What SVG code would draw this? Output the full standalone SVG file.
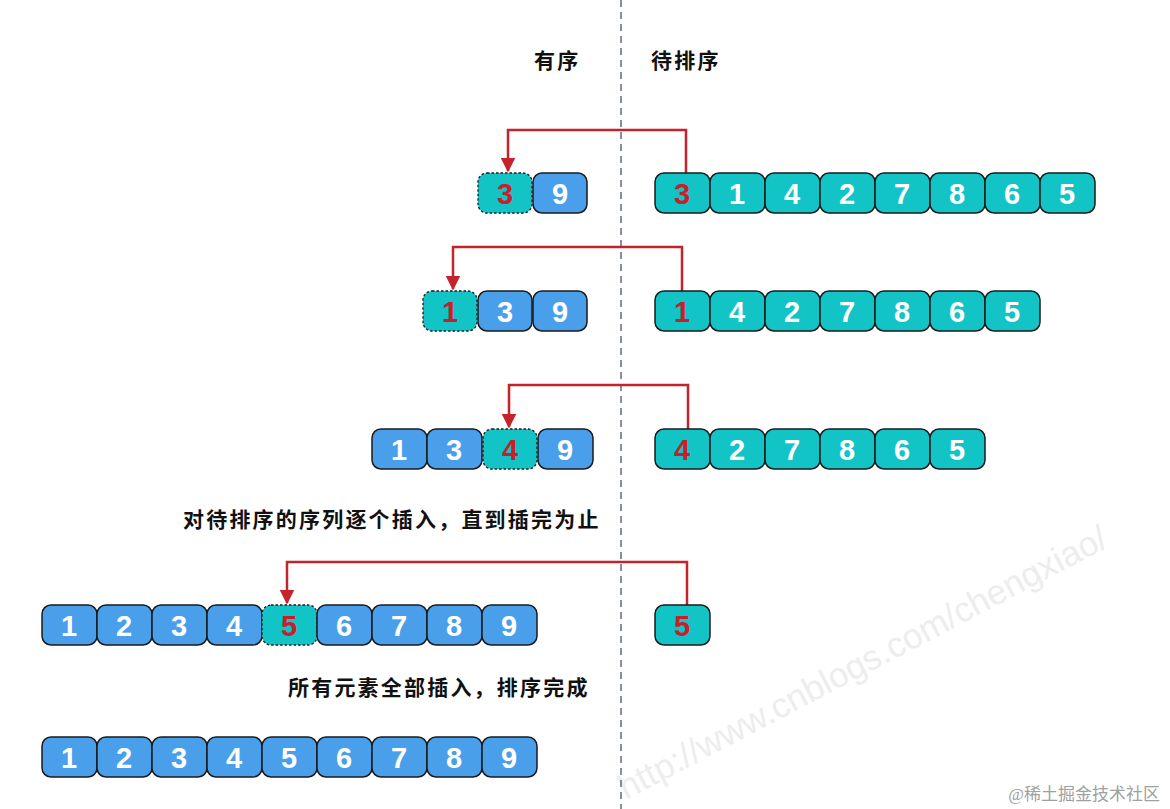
<svg xmlns="http://www.w3.org/2000/svg" width="1170" height="809" viewBox="0 0 1170 809">
<defs>
<style>
.c{fill:#13c4c6;stroke:#1a1a1a;stroke-width:1.5}
.b{fill:#4a9fea;stroke:#1a1a1a;stroke-width:1.5}
.d{fill:#13c4c6;stroke:#1a1a1a;stroke-width:1.3;stroke-dasharray:2.5 2}
.n{font-family:"Liberation Sans",Arial,sans-serif;font-weight:bold;font-size:29px;text-anchor:middle;fill:#ffffff}
.r{fill:#c8202a}
.lbl{font-family:"Liberation Sans","Noto Sans CJK SC",sans-serif;font-weight:bold;font-size:21px;letter-spacing:2.2px;fill:#111}
.arr{fill:none;stroke:#c4232b;stroke-width:2.5}
</style>
<marker id="ah" viewBox="0 0 10 10" refX="9" refY="5" markerWidth="6" markerHeight="6" markerUnits="strokeWidth" orient="auto">
<path d="M0,0 L10,5 L0,10 z" fill="#c4232b"/>
</marker>
</defs>
<rect width="1170" height="809" fill="#ffffff"/>
<text transform="translate(626,800) rotate(-27.7)" font-family="Liberation Sans,Arial,sans-serif" font-size="35" fill="#ededed">http://www.cnblogs.com/chengxiao/</text>
<line x1="621" y1="0" x2="621" y2="809" stroke="#5d6b80" stroke-width="1.5" stroke-dasharray="7 5"/>
<text class="lbl" x="534" y="68">有序</text>
<text class="lbl" x="651" y="68">待排序</text>
<text class="lbl" x="183" y="527">对待排序的序列逐个插入，直到插完为止</text>
<text class="lbl" x="288" y="695">所有元素全部插入，排序完成</text>
<text x="1160" y="800" text-anchor="end" font-family="Liberation Serif,'Noto Sans CJK SC',serif" font-size="17" fill="#a0a0a0">@稀土掘金技术社区</text>
<g id="connectors">
<path class="arr" d="M686,173 V130 H508 V171" marker-end="url(#ah)"/>
<path class="arr" d="M682,291 V247 H453 V289" marker-end="url(#ah)"/>
<path class="arr" d="M688,429 V385 H509 V427" marker-end="url(#ah)"/>
<path class="arr" d="M687,605 V562 H287 V603" marker-end="url(#ah)"/>
</g>
<g id="row1-sorted">
<rect class="d" x="478" y="173" width="54" height="40" rx="9"/><text class="n r" x="505" y="204">3</text>
<rect class="b" x="533" y="173" width="54" height="40" rx="9"/><text class="n" x="560" y="204">9</text>
</g>
<g id="row1-unsorted">
<rect class="c" x="655" y="173" width="55" height="40" rx="9"/><text class="n r" x="682" y="204">3</text>
<rect class="c" x="710" y="173" width="55" height="40" rx="9"/><text class="n" x="737" y="204">1</text>
<rect class="c" x="765" y="173" width="55" height="40" rx="9"/><text class="n" x="792" y="204">4</text>
<rect class="c" x="820" y="173" width="55" height="40" rx="9"/><text class="n" x="847" y="204">2</text>
<rect class="c" x="875" y="173" width="55" height="40" rx="9"/><text class="n" x="902" y="204">7</text>
<rect class="c" x="930" y="173" width="55" height="40" rx="9"/><text class="n" x="957" y="204">8</text>
<rect class="c" x="985" y="173" width="55" height="40" rx="9"/><text class="n" x="1012" y="204">6</text>
<rect class="c" x="1040" y="173" width="55" height="40" rx="9"/><text class="n" x="1067" y="204">5</text>
</g>
<g id="row2-sorted">
<rect class="d" x="423" y="291" width="54" height="40" rx="9"/><text class="n r" x="450" y="322">1</text>
<rect class="b" x="478" y="291" width="54" height="40" rx="9"/><text class="n" x="505" y="322">3</text>
<rect class="b" x="533" y="291" width="54" height="40" rx="9"/><text class="n" x="560" y="322">9</text>
</g>
<g id="row2-unsorted">
<rect class="c" x="655" y="291" width="55" height="40" rx="9"/><text class="n r" x="682" y="322">1</text>
<rect class="c" x="710" y="291" width="55" height="40" rx="9"/><text class="n" x="737" y="322">4</text>
<rect class="c" x="765" y="291" width="55" height="40" rx="9"/><text class="n" x="792" y="322">2</text>
<rect class="c" x="820" y="291" width="55" height="40" rx="9"/><text class="n" x="847" y="322">7</text>
<rect class="c" x="875" y="291" width="55" height="40" rx="9"/><text class="n" x="902" y="322">8</text>
<rect class="c" x="930" y="291" width="55" height="40" rx="9"/><text class="n" x="957" y="322">6</text>
<rect class="c" x="985" y="291" width="55" height="40" rx="9"/><text class="n" x="1012" y="322">5</text>
</g>
<g id="row3-sorted">
<rect class="b" x="372" y="429" width="55" height="40" rx="9"/><text class="n" x="399" y="460">1</text>
<rect class="b" x="427" y="429" width="55" height="40" rx="9"/><text class="n" x="454" y="460">3</text>
<rect class="d" x="483" y="429" width="54" height="40" rx="9"/><text class="n r" x="510" y="460">4</text>
<rect class="b" x="538" y="429" width="55" height="40" rx="9"/><text class="n" x="565" y="460">9</text>
</g>
<g id="row3-unsorted">
<rect class="c" x="655" y="429" width="55" height="40" rx="9"/><text class="n r" x="682" y="460">4</text>
<rect class="c" x="710" y="429" width="55" height="40" rx="9"/><text class="n" x="737" y="460">2</text>
<rect class="c" x="765" y="429" width="55" height="40" rx="9"/><text class="n" x="792" y="460">7</text>
<rect class="c" x="820" y="429" width="55" height="40" rx="9"/><text class="n" x="847" y="460">8</text>
<rect class="c" x="875" y="429" width="55" height="40" rx="9"/><text class="n" x="902" y="460">6</text>
<rect class="c" x="930" y="429" width="55" height="40" rx="9"/><text class="n" x="957" y="460">5</text>
</g>
<g id="row4-sorted">
<rect class="b" x="42" y="605" width="55" height="40" rx="9"/><text class="n" x="69" y="636">1</text>
<rect class="b" x="97" y="605" width="55" height="40" rx="9"/><text class="n" x="124" y="636">2</text>
<rect class="b" x="152" y="605" width="55" height="40" rx="9"/><text class="n" x="179" y="636">3</text>
<rect class="b" x="207" y="605" width="55" height="40" rx="9"/><text class="n" x="234" y="636">4</text>
<rect class="d" x="262" y="605" width="55" height="40" rx="9"/><text class="n r" x="289" y="636">5</text>
<rect class="b" x="317" y="605" width="55" height="40" rx="9"/><text class="n" x="344" y="636">6</text>
<rect class="b" x="372" y="605" width="55" height="40" rx="9"/><text class="n" x="399" y="636">7</text>
<rect class="b" x="427" y="605" width="55" height="40" rx="9"/><text class="n" x="454" y="636">8</text>
<rect class="b" x="482" y="605" width="55" height="40" rx="9"/><text class="n" x="509" y="636">9</text>
</g>
<g id="row4-unsorted">
<rect class="c" x="655" y="605" width="55" height="40" rx="9"/><text class="n r" x="682" y="636">5</text>
</g>
<g id="row5-sorted">
<rect class="b" x="42" y="737" width="55" height="40" rx="9"/><text class="n" x="69" y="768">1</text>
<rect class="b" x="97" y="737" width="55" height="40" rx="9"/><text class="n" x="124" y="768">2</text>
<rect class="b" x="152" y="737" width="55" height="40" rx="9"/><text class="n" x="179" y="768">3</text>
<rect class="b" x="207" y="737" width="55" height="40" rx="9"/><text class="n" x="234" y="768">4</text>
<rect class="b" x="262" y="737" width="55" height="40" rx="9"/><text class="n" x="289" y="768">5</text>
<rect class="b" x="317" y="737" width="55" height="40" rx="9"/><text class="n" x="344" y="768">6</text>
<rect class="b" x="372" y="737" width="55" height="40" rx="9"/><text class="n" x="399" y="768">7</text>
<rect class="b" x="427" y="737" width="55" height="40" rx="9"/><text class="n" x="454" y="768">8</text>
<rect class="b" x="482" y="737" width="55" height="40" rx="9"/><text class="n" x="509" y="768">9</text>
</g>
</svg>
